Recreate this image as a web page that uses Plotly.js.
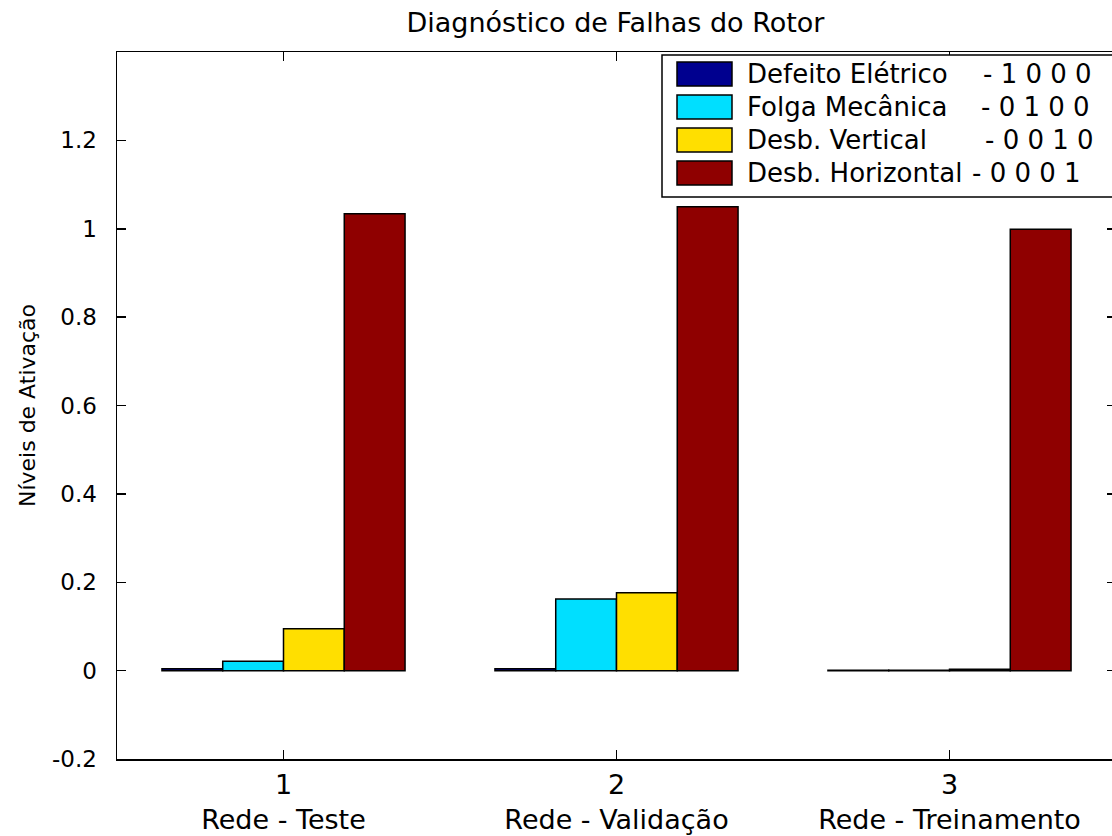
<!DOCTYPE html>
<html><head><meta charset="utf-8">
<script src="https://cdn.plot.ly/plotly-3.0.1.min.js"></script>
<style>html,body{margin:0;padding:0;overflow:hidden;background:#fff}</style>
</head><body>
<div id="chart" style="width:1120px;height:836px"></div>
<script>
// ---- data ----
const positions = [1, 2, 3];
const categories = ["Rede - Teste", "Rede - Validação", "Rede - Treinamento"];
const seriesNames = ["Defeito Elétrico", "Folga Mecânica", "Desb. Vertical", "Desb. Horizontal"];
const seriesCodes = ["- 1 0 0 0", "- 0 1 0 0", "- 0 0 1 0", "- 0 0 0 1"];
const defeitoEletrico = [0.004, 0.004, 0.001];
const folgaMecanica = [0.021, 0.162, 0.001];
const desbVertical = [0.095, 0.176, 0.003];
const desbHorizontal = [1.034, 1.050, 0.999];
const yTickVals = [-0.2, 0, 0.2, 0.4, 0.6, 0.8, 1, 1.2];
const yTickText = ["-0.2", "0", "0.2", "0.4", "0.6", "0.8", "1", "1.2"];

// ---- style ----
const colors = ["#00008F", "#00DFFF", "#FFDF00", "#8F0000"];
const FONT = "DejaVu Sans, Liberation Sans, Arial, sans-serif";
const W = 1120, H = 836, L = 117, R = 4, T = 52, B = 77;
const pw = W - L - R, ph = H - T - B;
const px2x = p => (p - L) / pw;
const px2y = p => (H - B - p) / ph;

const seriesValues = [defeitoEletrico, folgaMecanica, desbVertical, desbHorizontal];
const traces = seriesValues.map((vals, i) => ({
  type: "bar",
  x: positions,
  y: vals,
  name: seriesNames[i],
  marker: {color: colors[i], line: {color: "#000", width: 1.5}},
  showlegend: false,
  hoverinfo: "x+y"
}));

// custom legend (box, swatches, labels)
const shapes = [{
  type: "rect", xref: "paper", yref: "paper",
  x0: px2x(662), x1: 1.0, y0: px2y(197), y1: px2y(55),
  fillcolor: "#fff", line: {color: "#000", width: 1.5}, layer: "above"
}];
const annotations = [];
const rowY = [74, 107, 140, 173];
const codeX = [981, 979, 983, 970];
seriesNames.forEach((n, i) => {
  shapes.push({
    type: "rect", xref: "paper", yref: "paper",
    x0: px2x(677), x1: px2x(732), y0: px2y(rowY[i] + 12), y1: px2y(rowY[i] - 12),
    fillcolor: colors[i], line: {color: "#000", width: 1.5}, layer: "above"
  });
  annotations.push({
    xref: "paper", yref: "paper", x: px2x(745), y: px2y(rowY[i]),
    xanchor: "left", yanchor: "middle", showarrow: false, text: n,
    font: {family: FONT, size: 26, color: "#000"}
  });
  annotations.push({
    xref: "paper", yref: "paper", x: px2x(codeX[i]), y: px2y(rowY[i]),
    xanchor: "left", yanchor: "middle", showarrow: false, text: seriesCodes[i].replace(/ /g, "\u00A0"),
    font: {family: FONT, size: 26, color: "#000"}
  });
});

const layout = {
  width: W, height: H,
  margin: {l: L, r: R, t: T, b: B, pad: 0},
  paper_bgcolor: "#fff", plot_bgcolor: "#fff",
  barmode: "group", bargap: 0.27, bargroupgap: 0,
  title: {text: "Diagnóstico de Falhas do Rotor", font: {family: FONT, size: 27, color: "#000"},
          x: 615.5 / W, xanchor: "center", y: 1 - 23 / H, yanchor: "middle"},
  xaxis: {
    range: [0.5, 3.5], tickmode: "array", tickvals: positions,
    ticktext: positions.map((p, i) => p + "<br>" + categories[i]),
    ticks: "inside", ticklen: 9, tickwidth: 1.5, tickcolor: "#000",
    showline: true, linecolor: "#000", linewidth: 1.5, mirror: "allticks",
    showgrid: false, zeroline: false,
    tickfont: {family: FONT, size: 27, color: "#000"}, ticklabelstandoff: 1
  },
  yaxis: {
    range: [-0.2, 1.4], tickmode: "array", tickvals: yTickVals, ticktext: yTickText,
    ticks: "inside", ticklen: 9, tickwidth: 1.5, tickcolor: "#000",
    showline: true, linecolor: "#000", linewidth: 1.5, mirror: "allticks",
    showgrid: false, zeroline: false,
    tickfont: {family: FONT, size: 23, color: "#000"}, ticklabelstandoff: 14,
    title: {text: "Níveis de Ativação", font: {family: FONT, size: 22, color: "#000"}, standoff: 10}
  },
  shapes: shapes,
  annotations: annotations
};

Plotly.newPlot("chart", traces, layout, {displayModeBar: false, staticPlot: true});
</script>
</body></html>
